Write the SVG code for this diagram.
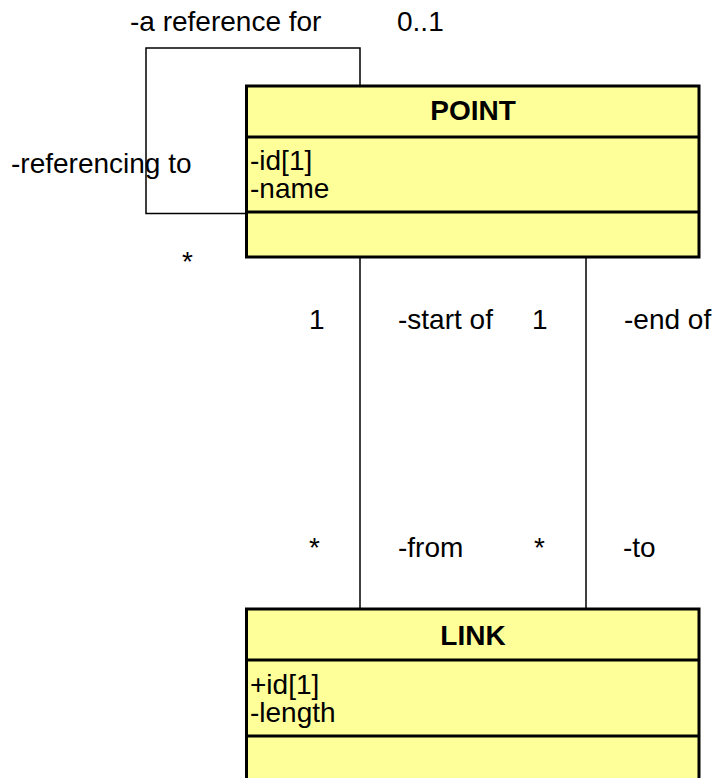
<svg xmlns="http://www.w3.org/2000/svg" width="714" height="778" viewBox="0 0 714 778">
  <style>
    .box { fill: #ffff99; stroke: #000; stroke-width: 3; }
    .div { stroke: #000; stroke-width: 3; }
    .edge { fill: none; stroke: #000; stroke-width: 1.5; }
    text { font-family: "Liberation Sans", Arial, sans-serif; font-size: 28px; fill: #000; }
    .title { font-weight: bold; text-anchor: middle; }
  </style>
  <rect width="714" height="778" fill="#fff"/>

  <!-- associations -->
  <g id="connectors">
    <path class="edge" d="M360,86 V48 H146 V213.5 H246"/>
    <line class="edge" x1="360" y1="257" x2="360" y2="609"/>
    <line class="edge" x1="586" y1="257" x2="586" y2="609"/>
    <text x="130" y="31">-a reference for</text>
    <text x="397" y="31">0..1</text>
    <text x="11" y="173">-referencing to</text>
    <text x="182" y="271">*</text>
    <text x="309" y="329">1</text>
    <text x="398" y="329">-start of</text>
    <text x="532" y="329">1</text>
    <text x="624" y="329">-end of</text>
    <text x="309" y="557">*</text>
    <text x="398" y="557">-from</text>
    <text x="534" y="557">*</text>
    <text x="623" y="557">-to</text>
  </g>

  <!-- class POINT -->
  <g id="point">
    <rect class="box" x="246.5" y="86" width="452.5" height="171"/>
    <line class="div" x1="246.5" y1="137" x2="699" y2="137"/>
    <line class="div" x1="246.5" y1="212" x2="699" y2="212"/>
    <text class="title" x="473" y="120">POINT</text>
    <text x="250" y="170">-id[1]</text>
    <text x="250" y="198">-name</text>
  </g>

  <!-- class LINK -->
  <g id="link">
    <rect class="box" x="246.5" y="609" width="452.5" height="185"/>
    <line class="div" x1="246.5" y1="660" x2="699" y2="660"/>
    <line class="div" x1="246.5" y1="736" x2="699" y2="736"/>
    <text class="title" x="473" y="645">LINK</text>
    <text x="250" y="694">+id[1]</text>
    <text x="250" y="722">-length</text>
  </g>
</svg>
